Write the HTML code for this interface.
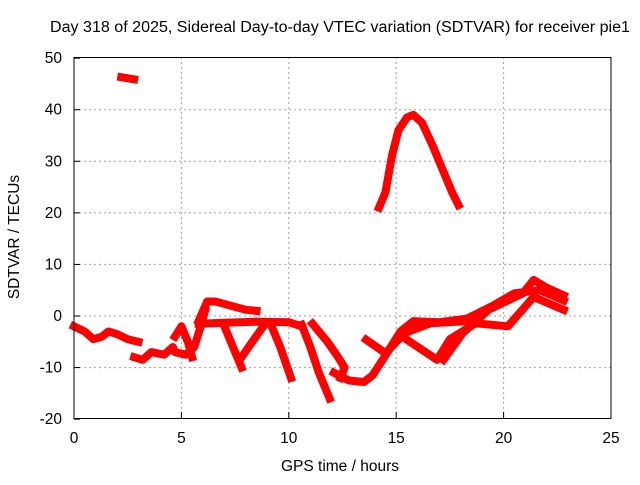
<!DOCTYPE html>
<html><head><meta charset="utf-8"><style>
body{margin:0;background:#fff;}
svg text{font-family:"Liberation Sans",sans-serif;font-size:15.5px;fill:#000;}
</style></head><body>
<svg id="chart" width="640" height="480" viewBox="0 0 640 480" xmlns="http://www.w3.org/2000/svg">
<text x="340" y="32" text-anchor="middle" textLength="580" lengthAdjust="spacingAndGlyphs">Day 318 of 2025, Sidereal Day-to-day VTEC variation (SDTVAR) for receiver pie1</text>
<g id="grid"></g>
<g id="series"></g>
<rect x="74" y="57.5" width="537" height="361" fill="none" stroke="#000" stroke-width="1"/>
<g id="axes"></g>
<text x="340" y="471" text-anchor="middle">GPS time / hours</text>
<text transform="translate(19,237) rotate(-90)" text-anchor="middle">SDTVAR / TECUs</text>
</svg>
<script>
const xTicks=[0,5,10,15,20,25];
const yTicks=[-20,-10,0,10,20,30,40,50];
const trackTop=[[2.2,46.3],[2.5,46.1],[2.8,45.9]];
const trackHump=[[14.2,21],[14.5,24],[14.8,31],[15.1,36],[15.5,38.5],[15.8,39],[16.2,37.5],[16.7,33],[17.2,28],[17.6,24],[17.9,21.5]];
const trackEarly=[[0,-2],[0.5,-3],[0.9,-4.5],[1.3,-4],[1.6,-3],[2.0,-3.5],[2.5,-4.5],[3.0,-5]];
const trackScatter=[[2.8,-8],[3.2,-8.5],[3.6,-7],[4.2,-7.5],[4.6,-6],[4.7,-7],[5.2,-7.5],[5.6,-6],[5.9,-2],[6.1,1]];
const trackHigh=[[5.8,-1],[6.2,2.8],[6.6,2.8],[7.3,2],[8.0,1.2],[8.5,1]];
const trackMid=[[5.8,-1.5],[7,-1.3],[8.5,-1.1],[10,-1.2],[10.6,-2]];
const spur1=[[7.0,-2],[7.3,-5],[7.6,-8],[7.8,-10]];
const spur2=[[7.8,-8],[8.3,-5],[8.9,-1.5]];
const spur3=[[9.2,-2],[9.6,-6],[10.1,-12]];
const spur4=[[4.7,-4],[5.0,-2],[5.3,-5],[5.5,-8]];
const trackDrop1=[[10.6,-1.7],[11.0,-6],[11.4,-11],[11.7,-14],[11.9,-16]];
const trackDrop2=[[11.1,-1.5],[11.8,-5],[12.3,-8],[12.6,-10],[12.4,-12]];
const trackV=[[12.1,-11],[12.8,-12.5],[13.5,-12.8],[13.9,-11.5],[14.6,-7],[15.2,-3],[15.8,-1],[17,-1.2],[18.3,-0.5],[19.5,2],[20.5,4.4],[21.7,5],[22.8,3]];
const trackB=[[13.6,-4.6],[14.5,-7.2],[15.4,-3.3],[16.6,-1.4],[18.3,-1]];
const trackC=[[15.5,-4.6],[16.9,-8.5],[17.5,-4.5],[18.7,-1.4],[20.2,-2],[21.4,3.7],[22.8,1.2]];
const trackD=[[17.2,-8.5],[18.1,-3.3],[19.3,1.2],[20.9,4.4],[21.4,7],[22,5.5],[22.8,4]];
const tracks=[trackTop,trackHump,trackEarly,trackScatter,trackHigh,trackMid,spur1,spur2,spur3,spur4,trackDrop1,trackDrop2,trackV,trackB,trackC,trackD];
const NS="http://www.w3.org/2000/svg";
const X=h=>74+h*21.48;
const Y=v=>316-v*5.157;
const grid=document.getElementById('grid'),axes=document.getElementById('axes'),ser=document.getElementById('series');
xTicks.forEach(t=>{
 if(t>0&&t<25){const l=document.createElementNS(NS,'line');
 
 
 l.setAttribute('x1',X(t));l.setAttribute('x2',X(t));l.setAttribute('y1',57);l.setAttribute('y2',418);
 l.setAttribute('stroke','#a0a0a0');l.setAttribute('stroke-dasharray','2,3');grid.appendChild(l);}
 const k=document.createElementNS(NS,'line');
 
 
 k.setAttribute('x1',X(t));k.setAttribute('x2',X(t));k.setAttribute('y1',418);k.setAttribute('y2',412);k.setAttribute('stroke','#000');axes.appendChild(k);
 const tx=document.createElementNS(NS,'text');
 
 
 tx.setAttribute('x',X(t));tx.setAttribute('y',443);tx.setAttribute('text-anchor','middle');tx.textContent=t;axes.appendChild(tx);
});
yTicks.forEach(t=>{
 if(t>-20&&t<50){const l=document.createElementNS(NS,'line');
 
 
 l.setAttribute('x1',74);l.setAttribute('x2',611);l.setAttribute('y1',Y(t));l.setAttribute('y2',Y(t));
 l.setAttribute('stroke','#a0a0a0');l.setAttribute('stroke-dasharray','2,3');grid.appendChild(l);}
 const k=document.createElementNS(NS,'line');
 
 
 k.setAttribute('x1',74);k.setAttribute('x2',80);k.setAttribute('y1',Y(t));k.setAttribute('y2',Y(t));k.setAttribute('stroke','#000');axes.appendChild(k);
 const tx=document.createElementNS(NS,'text');
 
 
 tx.setAttribute('x',62);tx.setAttribute('y',Y(t)+5);tx.setAttribute('text-anchor','end');tx.textContent=t;axes.appendChild(tx);
});
tracks.forEach(tr=>{
 const p=document.createElementNS(NS,'polyline');
 
 
 p.setAttribute('points',tr.map(d=>X(d[0])+','+Y(d[1])).join(' '));
 p.setAttribute('fill','none');p.setAttribute('stroke','#f00');p.setAttribute('stroke-width','8');
 p.setAttribute('stroke-linejoin','round');p.setAttribute('stroke-linecap','square');
 ser.appendChild(p);
});
</script>
</body></html>
